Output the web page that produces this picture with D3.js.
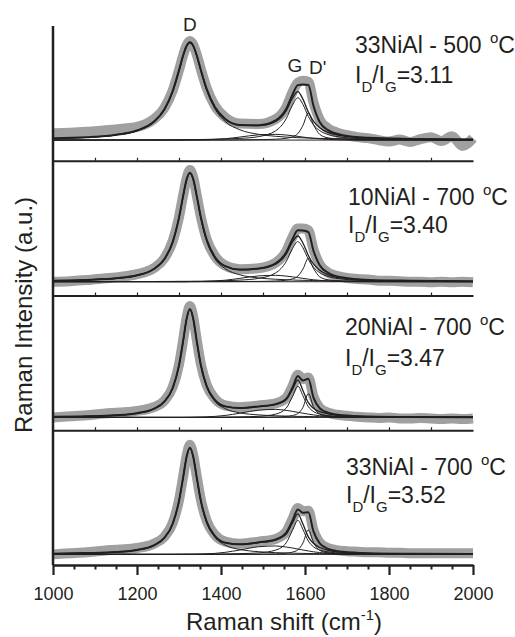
<!DOCTYPE html>
<html>
<head>
<meta charset="utf-8">
<script src="https://cdn.jsdelivr.net/npm/d3@7"></script>
<style>
  body { margin: 0; background: #fff; }
  svg { display: block; font-family: 'Liberation Sans', Arial, sans-serif; }
</style>
</head>
<body>
<svg id="canvas"></svg>
<script>
// raman shift grids (cm-1): fitted curves and measured spectra
let fitShift = [1000, 1080, 1150, 1200, 1240, 1265, 1285, 1300, 1310, 1318, 1326, 1334, 1342, 1352, 1366, 1385, 1410, 1445, 1490, 1530, 1555, 1570, 1583, 1595, 1608, 1620, 1635, 1655, 1690, 1750, 1850, 2000]
let dataShift = [1000, 1040, 1080, 1120, 1160, 1200, 1240, 1265, 1285, 1300, 1310, 1318, 1326, 1334, 1342, 1352, 1366, 1385, 1410, 1445, 1490, 1530, 1555, 1570, 1583, 1595, 1608, 1620, 1635, 1655, 1675, 1700, 1725, 1750, 1775, 1800, 1825, 1850, 1875, 1900, 1925, 1950, 1975, 2000]

let sampleNames = ['33NiAl - 500', '10NiAl - 700', '20NiAl - 700', '33NiAl - 700']
let ratios = ['3.11', '3.40', '3.47', '3.52']

let xTicks = [1000, 1200, 1400, 1600, 1800, 2000]
let peakNames = ['D', 'G', "D'"]
let peakShift = [1326, 1576, 1630]

// 33NiAl - 500 C (intensity normalised to the D band)
let p1Data = [0.07, 0.075, 0.085, 0.10, 0.115, 0.135, 0.215, 0.33, 0.51, 0.72, 0.875, 0.975, 1.02, 0.98, 0.885, 0.73, 0.535, 0.355, 0.235, 0.17, 0.165, 0.215, 0.335, 0.49, 0.59, 0.61, 0.60, 0.39, 0.21, 0.12, 0.08, 0.05, 0.03, 0.02, 0.0, -0.015, 0.005, -0.02, 0.01, 0.03, -0.01, 0.04, -0.06, 0.02]
let p1Fit = [0.017, 0.028, 0.054, 0.098, 0.188, 0.314, 0.505, 0.718, 0.874, 0.969, 1.007, 0.970, 0.876, 0.722, 0.524, 0.343, 0.218, 0.156, 0.153, 0.202, 0.319, 0.465, 0.566, 0.572, 0.568, 0.357, 0.187, 0.102, 0.051, 0.024, 0.012, 0.006]
let p1Sum = [0.017, 0.028, 0.054, 0.098, 0.188, 0.314, 0.504, 0.717, 0.873, 0.968, 1.006, 0.969, 0.875, 0.721, 0.523, 0.342, 0.217, 0.154, 0.149, 0.193, 0.301, 0.432, 0.499, 0.422, 0.288, 0.196, 0.128, 0.079, 0.043, 0.021, 0.011, 0.006]
let p1D = [0.016, 0.027, 0.052, 0.096, 0.185, 0.311, 0.5, 0.713, 0.868, 0.963, 1, 0.963, 0.868, 0.713, 0.512, 0.326, 0.192, 0.106, 0.059, 0.039, 0.031, 0.028, 0.025, 0.023, 0.021, 0.019, 0.017, 0.015, 0.013, 0.009, 0.006, 0.004]
let p1G = [0.001, 0.001, 0.002, 0.002, 0.003, 0.003, 0.004, 0.004, 0.005, 0.005, 0.005, 0.005, 0.006, 0.006, 0.007, 0.009, 0.011, 0.017, 0.036, 0.095, 0.218, 0.359, 0.436, 0.368, 0.243, 0.159, 0.098, 0.057, 0.028, 0.012, 0.005, 0.002]
let p1Dp = [0, 0, 0, 0, 0, 0, 0.001, 0.001, 0.001, 0.001, 0.001, 0.001, 0.001, 0.001, 0.001, 0.001, 0.001, 0.002, 0.004, 0.009, 0.018, 0.033, 0.067, 0.150, 0.28, 0.161, 0.059, 0.023, 0.008, 0.003, 0.001, 0]
let p1D3 = [0, 0, 0, 0, 0, 0, 0, 0, 0, 0, 0.001, 0.001, 0.001, 0.002, 0.004, 0.007, 0.014, 0.031, 0.054, 0.059, 0.052, 0.045, 0.038, 0.031, 0.024, 0.018, 0.013, 0.007, 0.002, 0, 0, 0]

// 10NiAl - 700 C
let p2Data = [0.0, 0.005, 0.015, 0.03, 0.045, 0.07, 0.125, 0.215, 0.375, 0.595, 0.80, 0.95, 1.03, 0.96, 0.80, 0.60, 0.39, 0.24, 0.15, 0.115, 0.125, 0.175, 0.28, 0.41, 0.49, 0.49, 0.475, 0.30, 0.16, 0.085, 0.055, 0.035, 0.025, 0.02, 0.01, 0.008, 0.005, 0.0, 0.0, -0.005, 0.0, -0.005, 0.0, -0.005]
let p2Fit = [0.010, 0.017, 0.032, 0.059, 0.117, 0.208, 0.367, 0.591, 0.794, 0.942, 1.006, 0.945, 0.797, 0.595, 0.386, 0.231, 0.144, 0.112, 0.123, 0.170, 0.269, 0.392, 0.474, 0.473, 0.458, 0.288, 0.152, 0.082, 0.039, 0.017, 0.009, 0.004]
let p2Sum = [0.010, 0.017, 0.032, 0.059, 0.117, 0.208, 0.367, 0.591, 0.794, 0.942, 1.005, 0.944, 0.796, 0.594, 0.385, 0.230, 0.143, 0.110, 0.120, 0.163, 0.255, 0.366, 0.422, 0.357, 0.242, 0.164, 0.106, 0.064, 0.033, 0.015, 0.008, 0.004]
let p2D = [0.009, 0.016, 0.030, 0.057, 0.115, 0.205, 0.364, 0.587, 0.790, 0.938, 1, 0.938, 0.790, 0.587, 0.375, 0.216, 0.120, 0.064, 0.035, 0.023, 0.018, 0.016, 0.014, 0.013, 0.012, 0.011, 0.010, 0.009, 0.007, 0.005, 0.004, 0.002]
let p2G = [0.001, 0.001, 0.002, 0.002, 0.002, 0.003, 0.003, 0.004, 0.004, 0.004, 0.004, 0.005, 0.005, 0.005, 0.006, 0.007, 0.009, 0.015, 0.031, 0.081, 0.185, 0.305, 0.37, 0.313, 0.206, 0.135, 0.083, 0.048, 0.024, 0.010, 0.004, 0.002]
let p2Dp = [0, 0, 0, 0, 0, 0, 0, 0, 0, 0, 0.001, 0.001, 0.001, 0.001, 0.001, 0.001, 0.001, 0.002, 0.003, 0.007, 0.014, 0.026, 0.052, 0.116, 0.216, 0.124, 0.046, 0.018, 0.006, 0.002, 0.001, 0]
let p2D3 = [0, 0, 0, 0, 0, 0, 0, 0, 0, 0, 0.001, 0.001, 0.001, 0.002, 0.004, 0.007, 0.014, 0.031, 0.054, 0.059, 0.052, 0.045, 0.038, 0.031, 0.024, 0.018, 0.013, 0.007, 0.002, 0, 0, 0]

// 20NiAl - 700 C
let p3Data = [0.0, 0.01, 0.02, 0.035, 0.045, 0.06, 0.095, 0.155, 0.28, 0.49, 0.72, 0.92, 1.03, 0.925, 0.725, 0.495, 0.30, 0.175, 0.11, 0.095, 0.11, 0.13, 0.18, 0.285, 0.395, 0.355, 0.37, 0.195, 0.09, 0.045, 0.025, 0.015, 0.005, 0.0, -0.005, 0.0, -0.01, -0.01, -0.005, -0.01, -0.015, -0.01, -0.015, -0.01]
let p3Fit = [0.006, 0.010, 0.020, 0.039, 0.079, 0.145, 0.272, 0.481, 0.710, 0.909, 1.002, 0.910, 0.713, 0.485, 0.288, 0.163, 0.102, 0.087, 0.102, 0.123, 0.171, 0.274, 0.382, 0.341, 0.357, 0.186, 0.085, 0.043, 0.019, 0.008, 0.003, 0.002]
let p3Sum = [0.006, 0.010, 0.020, 0.039, 0.079, 0.145, 0.272, 0.481, 0.710, 0.909, 1.002, 0.910, 0.713, 0.485, 0.288, 0.163, 0.102, 0.086, 0.100, 0.119, 0.162, 0.257, 0.346, 0.249, 0.137, 0.085, 0.054, 0.032, 0.015, 0.007, 0.003, 0.002]
let p3D = [0.006, 0.010, 0.020, 0.038, 0.078, 0.144, 0.271, 0.48, 0.709, 0.907, 1, 0.907, 0.709, 0.48, 0.281, 0.152, 0.081, 0.042, 0.023, 0.015, 0.012, 0.010, 0.009, 0.009, 0.008, 0.007, 0.007, 0.006, 0.005, 0.004, 0.002, 0.001]
let p3G = [0, 0, 0, 0.001, 0.001, 0.001, 0.001, 0.001, 0.001, 0.001, 0.001, 0.002, 0.002, 0.002, 0.002, 0.002, 0.003, 0.005, 0.010, 0.030, 0.085, 0.191, 0.29, 0.201, 0.099, 0.055, 0.031, 0.017, 0.008, 0.003, 0.001, 0.001]
let p3Dp = [0, 0, 0, 0, 0, 0, 0, 0, 0, 0, 0, 0, 0, 0, 0, 0, 0, 0.001, 0.002, 0.004, 0.009, 0.017, 0.036, 0.092, 0.22, 0.101, 0.031, 0.011, 0.004, 0.001, 0, 0]
let p3D3 = [0, 0, 0, 0, 0, 0, 0, 0, 0, 0.001, 0.001, 0.001, 0.002, 0.003, 0.005, 0.009, 0.018, 0.039, 0.067, 0.074, 0.065, 0.056, 0.047, 0.039, 0.030, 0.023, 0.016, 0.009, 0.002, 0, 0, 0]

// 33NiAl - 700 C
let p4Data = [0.0, 0.01, 0.02, 0.035, 0.045, 0.06, 0.10, 0.165, 0.295, 0.51, 0.735, 0.925, 1.03, 0.93, 0.74, 0.515, 0.315, 0.185, 0.12, 0.10, 0.12, 0.145, 0.21, 0.33, 0.435, 0.405, 0.41, 0.23, 0.11, 0.06, 0.04, 0.03, 0.025, 0.02, 0.02, 0.015, 0.015, 0.01, 0.01, 0.01, 0.01, 0.01, 0.01, 0.01]
let p4Fit = [0.006, 0.012, 0.022, 0.042, 0.085, 0.155, 0.288, 0.502, 0.727, 0.916, 1.003, 0.916, 0.729, 0.505, 0.305, 0.175, 0.110, 0.095, 0.113, 0.140, 0.201, 0.317, 0.423, 0.391, 0.395, 0.219, 0.103, 0.052, 0.024, 0.011, 0.006, 0.003]
let p4Sum = [0.006, 0.012, 0.022, 0.042, 0.085, 0.155, 0.288, 0.502, 0.727, 0.916, 1.003, 0.916, 0.729, 0.505, 0.305, 0.175, 0.110, 0.094, 0.111, 0.135, 0.190, 0.296, 0.380, 0.285, 0.165, 0.104, 0.065, 0.038, 0.019, 0.009, 0.005, 0.003]
let p4D = [0.006, 0.011, 0.021, 0.041, 0.084, 0.154, 0.287, 0.5, 0.725, 0.913, 1, 0.913, 0.725, 0.5, 0.297, 0.163, 0.087, 0.046, 0.025, 0.016, 0.013, 0.011, 0.010, 0.009, 0.008, 0.008, 0.007, 0.006, 0.005, 0.004, 0.003, 0.002]
let p4G = [0, 0.001, 0.001, 0.001, 0.001, 0.001, 0.001, 0.002, 0.002, 0.002, 0.002, 0.002, 0.002, 0.002, 0.003, 0.003, 0.004, 0.007, 0.014, 0.040, 0.108, 0.225, 0.32, 0.235, 0.125, 0.072, 0.041, 0.023, 0.011, 0.005, 0.002, 0.001]
let p4Dp = [0, 0, 0, 0, 0, 0, 0, 0, 0, 0, 0, 0, 0, 0, 0, 0, 0, 0.001, 0.002, 0.005, 0.011, 0.021, 0.043, 0.106, 0.23, 0.115, 0.038, 0.014, 0.005, 0.002, 0.001, 0]
let p4D3 = [0, 0, 0, 0, 0, 0, 0, 0, 0, 0.001, 0.001, 0.001, 0.002, 0.003, 0.005, 0.009, 0.019, 0.041, 0.072, 0.079, 0.069, 0.060, 0.050, 0.041, 0.032, 0.024, 0.017, 0.009, 0.003, 0, 0, 0]

let width = 515
let height = 637
let plotLeft = 53
let plotRight = 473
let plotTop = 26
let plotBottom = 565
let panelH = (plotBottom - plotTop) / 4
let ink = '#231f20'

// layout per panel: y domain (baseline offset differs) and label placement
let yDomains = [[-0.213, 1.175], [-0.127, 1.116], [-0.119, 1.128], [-0.10, 1.167]]
let labelPos = [[355, 53, 30], [348, 205, 28], [345, 335, 31], [346, 475, 28]]

let panels = [
    {data: p1Data, fit: p1Fit, sum: p1Sum, parts: [p1D, p1G, p1Dp, p1D3]},
    {data: p2Data, fit: p2Fit, sum: p2Sum, parts: [p2D, p2G, p2Dp, p2D3]},
    {data: p3Data, fit: p3Fit, sum: p3Sum, parts: [p3D, p3G, p3Dp, p3D3]},
    {data: p4Data, fit: p4Fit, sum: p4Sum, parts: [p4D, p4G, p4Dp, p4D3]}
]

let svg = d3.select('#canvas')
    .attr('width', width)
    .attr('height', height)

let xScale = d3.scaleLinear()
    .domain([1000, 2000])
    .range([plotLeft, plotRight])

let drawPanel = (p, i) => {
    let y0 = plotTop + i * panelH
    let yScale = d3.scaleLinear()
        .domain(yDomains[i])
        .range([y0 + panelH, y0])

    let dataLine = d3.line()
        .x((d, j) => xScale(dataShift[j]))
        .y(d => yScale(d))
        .curve(d3.curveMonotoneX)

    let fitLine = d3.line()
        .x((d, j) => xScale(fitShift[j]))
        .y(d => yScale(d))
        .curve(d3.curveMonotoneX)

    let g = svg.append('g').attr('class', 'panel')

    g.append('path')
        .datum(p.data)
        .attr('d', dataLine)
        .attr('fill', 'none')
        .attr('stroke', '#a0a0a0')
        .attr('stroke-width', 10)
        .attr('stroke-linejoin', 'round')

    // flat background
    g.append('path')
        .datum([0, 0])
        .attr('d', d3.line().x((d, j) => xScale(j ? 2000 : 1000)).y(d => yScale(d)))
        .attr('stroke', ink)
        .attr('stroke-width', 1)

    p.parts.forEach(part => {
        g.append('path')
            .datum(part)
            .attr('d', fitLine)
            .attr('fill', 'none')
            .attr('stroke', ink)
            .attr('stroke-width', 1)
    })

    g.append('path')
        .datum(p.sum)
        .attr('d', fitLine)
        .attr('fill', 'none')
        .attr('stroke', ink)
        .attr('stroke-width', 1.3)

    g.append('path')
        .datum(p.fit)
        .attr('d', fitLine)
        .attr('fill', 'none')
        .attr('stroke', ink)
        .attr('stroke-width', 2)

    // sample label
    let lp = labelPos[i]
    let t1 = g.append('text')
        .attr('x', lp[0])
        .attr('y', lp[1])
        .attr('font-size', 23)
        .attr('fill', ink)
    t1.append('tspan').text(sampleNames[i] + ' ')
    t1.append('tspan').attr('font-size', 15).attr('dy', -10).attr('dx', 2).text('o')
    t1.append('tspan').attr('dy', 10).text('C')

    let t2 = g.append('text')
        .attr('x', lp[0])
        .attr('y', lp[1] + lp[2])
        .attr('font-size', 23)
        .attr('fill', ink)
    t2.append('tspan').text('I')
    t2.append('tspan').attr('font-size', 15).attr('dy', 9).text('D')
    t2.append('tspan').attr('dy', -9).text('/I')
    t2.append('tspan').attr('font-size', 15).attr('dy', 9).text('G')
    t2.append('tspan').attr('dy', -9).text('=' + ratios[i])
}

panels.forEach(drawPanel)

// peak names on the top panel
let peakY = [31, 72, 74]
svg.append('g')
    .selectAll('text')
    .data(peakNames)
    .enter()
    .append('text')
    .attr('x', (d, i) => xScale(peakShift[i]))
    .attr('y', (d, i) => peakY[i])
    .attr('text-anchor', 'middle')
    .attr('font-size', 19)
    .attr('fill', ink)
    .text(d => d)

// separators between stacked spectra
for (let i = 1; i < 4; i++) {
    let sep = svg.append('g')
        .attr('transform', 'translate(0, ' + (plotTop + i * panelH) + ')')
        .call(d3.axisBottom(xScale)
            .tickValues(d3.range(1100, 2000, 100))
            .tickSize(-3)
            .tickSizeOuter(0)
            .tickFormat(''))
    sep.select('.domain').attr('stroke', ink).attr('stroke-width', 2.2)
    sep.selectAll('.tick line').attr('stroke', ink).attr('stroke-width', 1.2)
}

// bottom axis with minor ticks
let minorTicks = d3.range(1050, 2000, 50).filter(v => v % 200 !== 0)
let minor = svg.append('g')
    .attr('transform', 'translate(0, ' + plotBottom + ')')
    .call(d3.axisBottom(xScale)
        .tickValues(minorTicks)
        .tickSize(4.5)
        .tickSizeOuter(0)
        .tickFormat(''))
minor.select('.domain').remove()
minor.selectAll('.tick line').attr('stroke', ink).attr('stroke-width', 2)

let xAxis = svg.append('g')
    .attr('transform', 'translate(0, ' + plotBottom + ')')
    .call(d3.axisBottom(xScale)
        .tickValues(xTicks)
        .tickSize(10)
        .tickPadding(12)
        .tickSizeOuter(0)
        .tickFormat(d3.format('d')))
xAxis.select('.domain').attr('stroke', ink).attr('stroke-width', 2.5)
xAxis.selectAll('.tick line').attr('stroke', ink).attr('stroke-width', 2.2)
xAxis.selectAll('.tick text')
    .attr('font-size', 18)
    .attr('font-family', "'Liberation Sans', Arial, sans-serif")
    .attr('fill', ink)

// y axis line (no ticks)
svg.append('line')
    .attr('x1', plotLeft).attr('x2', plotLeft)
    .attr('y1', plotTop).attr('y2', plotBottom)
    .attr('stroke', ink)
    .attr('stroke-width', 2.5)

// axis titles
let xTitle = svg.append('text')
    .attr('x', 284)
    .attr('y', 630)
    .attr('text-anchor', 'middle')
    .attr('font-size', 24)
    .attr('fill', ink)
xTitle.append('tspan').text('Raman shift (cm')
xTitle.append('tspan').attr('font-size', 15).attr('dy', -10).text('-1')
xTitle.append('tspan').attr('dy', 10).text(')')

svg.append('text')
    .attr('transform', 'translate(31.5, 315) rotate(-90)')
    .attr('text-anchor', 'middle')
    .attr('font-size', 24)
    .attr('fill', ink)
    .text('Raman Intensity (a.u.)')
</script>
</body>
</html>
